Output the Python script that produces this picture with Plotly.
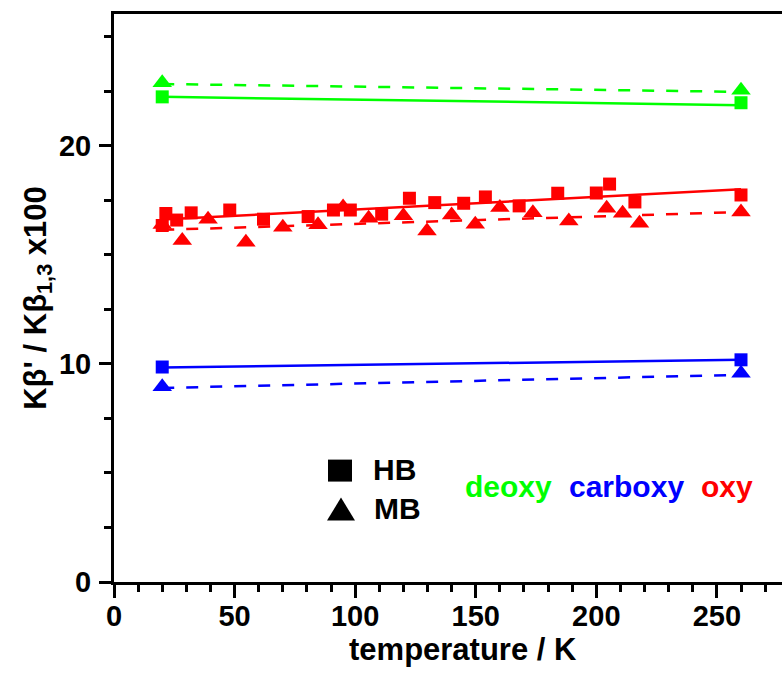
import plotly.graph_objects as go

# Temperatures (K) of the two-point series and fit end points
temp_ends = [20, 260]

# deoxy (green)
deoxy_hb = [22.25, 21.98]
deoxy_mb = [22.9, 22.55]
deoxy_hb_fit = [22.25, 21.87]
deoxy_mb_fit = [22.84, 22.48]

# carboxy (blue)
carboxy_hb = [9.86, 10.19]
carboxy_mb = [8.95, 9.57]
carboxy_hb_fit = [9.84, 10.19]
carboxy_mb_fit = [8.9, 9.5]

# oxy (red), temperature series
oxy_hb_temp = [20, 21.5, 26, 32, 48, 62, 80.5, 91, 98, 111, 122.5, 133, 145,
               154, 168, 184, 200, 205.5, 216, 260]
oxy_hb = [16.35, 16.9, 16.6, 16.93, 17.06, 16.64, 16.76, 17.06, 17.06, 16.87,
          17.6, 17.4, 17.37, 17.66, 17.25, 17.83, 17.84, 18.25, 17.43, 17.75]
oxy_mb_temp = [20, 28.3, 39, 54.7, 70, 84.6, 95, 105.6, 120, 129.8, 140, 149.8,
               160, 173.7, 188.6, 204.3, 210.9, 217.9, 260]
oxy_mb = [16.4, 15.66, 16.64, 15.58, 16.27, 16.38, 17.2, 16.68, 16.8, 16.1,
          16.83, 16.41, 17.17, 16.94, 16.56, 17.14, 16.91, 16.45, 16.97]
oxy_hb_fit = [16.62, 18.01]
oxy_mb_fit = [16.15, 16.97]

GREEN = "#00FF00"
BLUE = "#0000FF"
RED = "#FF0000"
FONT = "Arial, Liberation Sans, sans-serif"

fig = go.Figure()

fits = [
    (deoxy_hb_fit, GREEN, "solid"), (deoxy_mb_fit, GREEN, "12px,12px"),
    (carboxy_hb_fit, BLUE, "solid"), (carboxy_mb_fit, BLUE, "12px,12px"),
    (oxy_hb_fit, RED, "solid"), (oxy_mb_fit, RED, "12px,12px"),
]
for ys, col, dash in fits:
    fig.add_trace(go.Scatter(x=temp_ends, y=ys, mode="lines",
                             line=dict(color=col, width=2.5, dash=dash),
                             showlegend=False, hoverinfo="skip"))

points = [
    (temp_ends, deoxy_hb, GREEN, "square", 13),
    (temp_ends, deoxy_mb, GREEN, "triangle-up", 17),
    (temp_ends, carboxy_hb, BLUE, "square", 13),
    (temp_ends, carboxy_mb, BLUE, "triangle-up", 17),
    (oxy_mb_temp, oxy_mb, RED, "triangle-up", 17),
    (oxy_hb_temp, oxy_hb, RED, "square", 13),
]
for xs, ys, col, sym, size in points:
    fig.add_trace(go.Scatter(x=xs, y=ys, mode="markers",
                             marker=dict(color=col, symbol=sym, size=size, line=dict(width=0)),
                             showlegend=False))

# Plot area in pixels: x 114..782, y 14..582.5
def px(x):
    return (x - 114) / 668.0

def py(y):
    return (582.5 - y) / 568.5

# Symbol key
fig.add_shape(type="rect", xref="paper", yref="paper",
              x0=px(328), x1=px(352), y0=py(482), y1=py(460),
              fillcolor="black", line=dict(width=0))
fig.add_shape(type="path", xref="paper", yref="paper",
              path=f"M {px(327)},{py(521)} L {px(355)},{py(521)} L {px(341)},{py(498)} Z",
              fillcolor="black", line=dict(width=0))

key_font = dict(family=FONT, size=30, weight="bold")
fig.add_annotation(text="HB", x=px(371), y=py(470), xref="paper", yref="paper",
                   xanchor="left", yanchor="middle", showarrow=False,
                   font=dict(key_font, color="black"))
fig.add_annotation(text="MB", x=px(372), y=py(509), xref="paper", yref="paper",
                   xanchor="left", yanchor="middle", showarrow=False,
                   font=dict(key_font, color="black"))
for label, cx, col in [("deoxy", 508, GREEN), ("carboxy", 626, BLUE), ("oxy", 727, RED)]:
    fig.add_annotation(text=label, x=px(cx), y=py(487), xref="paper", yref="paper",
                       xanchor="center", yanchor="middle", showarrow=False,
                       font=dict(key_font, color=col))

tick_font = dict(family=FONT, size=29, color="black", weight="bold")
title_font = dict(family=FONT, size=31, color="black", weight="bold")

# x-axis title, centred on the full axis span (axis continues past the right edge)
fig.add_annotation(text="temperature / K", x=px(463), y=py(650), xref="paper", yref="paper",
                   xanchor="center", yanchor="middle", showarrow=False, font=title_font)

fig.update_xaxes(
    range=[0, 277], tick0=0, dtick=50, ticks="outside", ticklen=13, tickwidth=2.5,
    tickcolor="black", showline=True, linewidth=3, linecolor="black", mirror=True,
    showgrid=False, zeroline=False, tickfont=tick_font, ticklabelstandoff=-7,
    minor=dict(dtick=10, ticks="outside", ticklen=7, tickwidth=2.5, tickcolor="black", showgrid=False),
)
fig.update_yaxes(
    range=[0, 26.05], tick0=0, dtick=10, ticks="outside", ticklen=12, tickwidth=2.5,
    tickcolor="black", showline=True, linewidth=3, linecolor="black", mirror=False,
    showgrid=False, zeroline=False, tickfont=tick_font, ticklabelstandoff=2,
    minor=dict(dtick=2.5, ticks="outside", ticklen=7, tickwidth=2.5, tickcolor="black", showgrid=False),
    title=dict(text="Kβ' / Kβ<sub>1,3</sub> x100", font=title_font, standoff=4),
)

fig.update_layout(
    width=782, height=675,
    margin=dict(l=114, r=0, t=14, b=93),
    paper_bgcolor="white", plot_bgcolor="white",
    font=dict(family=FONT),
    showlegend=False,
)

fig.write_html("out.html")
